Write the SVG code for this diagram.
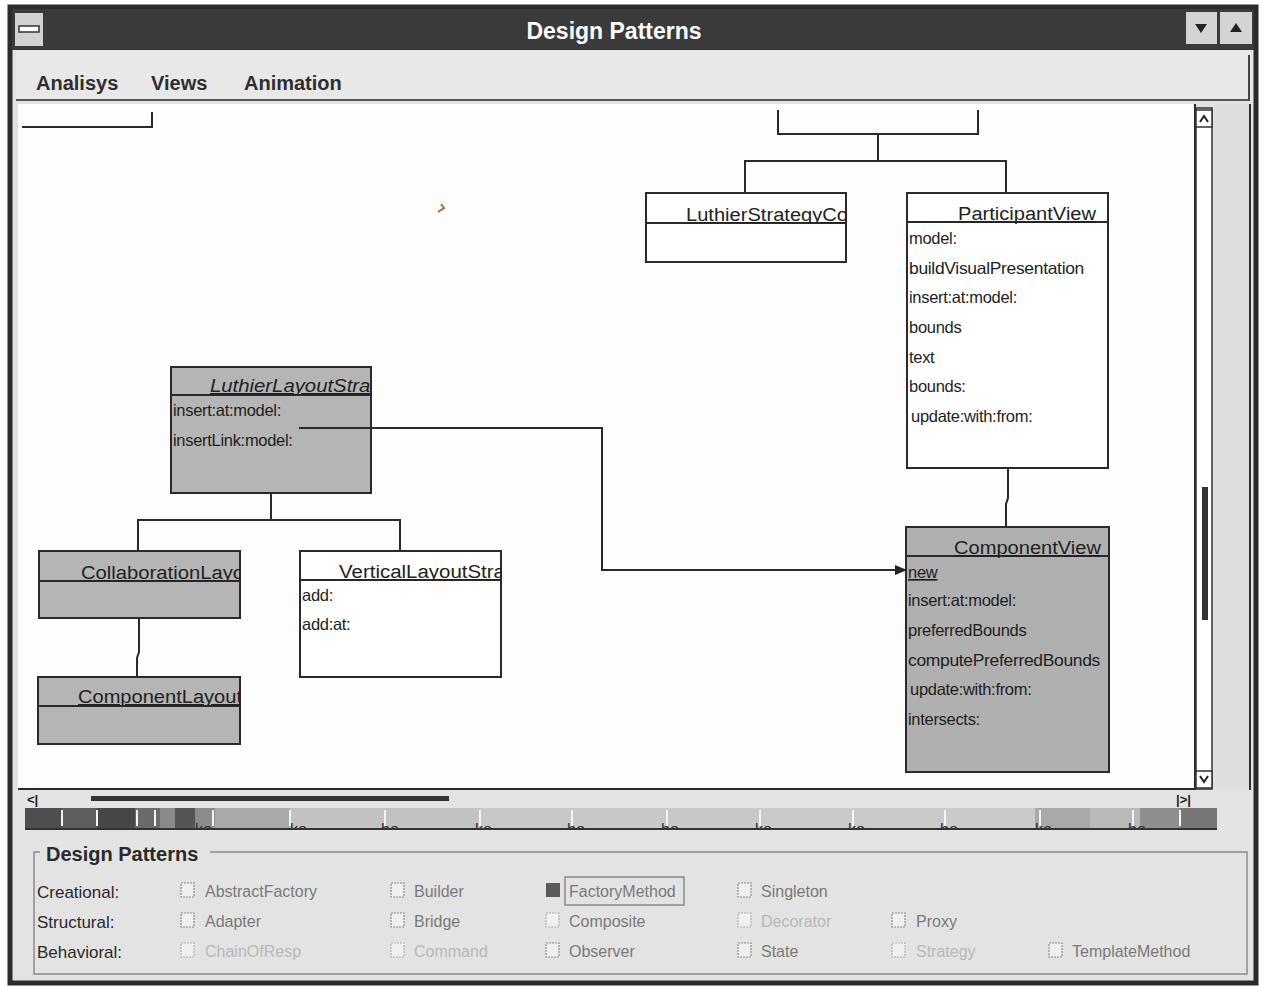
<svg xmlns="http://www.w3.org/2000/svg" width="1261" height="987" viewBox="0 0 1261 987">
<style>
  .frame{fill:#e3e3e3;stroke:#2b2b2b;stroke-width:5}
  .menu{font-family:"Liberation Sans",Arial,sans-serif;font-weight:bold;font-size:20px;fill:#2f2f2f}
  .title{font-family:"Liberation Sans",Arial,sans-serif;font-weight:bold;font-size:23px;fill:#ffffff}
  .box{stroke:#2a2a2a;stroke-width:2}
  .white{fill:#ffffff}
  .shade{fill:#b5b5b5}
  .cname{font-family:"Liberation Sans",Arial,sans-serif;font-size:18px;fill:#222;text-decoration:underline}
  .meth{font-family:"Liberation Sans",Arial,sans-serif;font-size:16.5px;fill:#1e1e1e;letter-spacing:-0.3px}
  .conn{fill:none;stroke:#2a2a2a;stroke-width:2}
  .lbl{font-family:"Liberation Sans",Arial,sans-serif;font-size:17px;fill:#2a2a2a}
  .opt{font-family:"Liberation Sans",Arial,sans-serif;font-size:16px;fill:#7a7a7a}
  .fade{fill:#b8b8b8}
  .cb{fill:#f0f0f0;stroke:#8a8a8a;stroke-width:1.2;stroke-dasharray:2 1}
  .cbf{stroke:#b0b0b0}
  .sb{fill:#ffffff;stroke:#333;stroke-width:1.5}
  .tick{stroke:#f4f4f4;stroke-width:2}
  .frag{font-family:"Liberation Sans",Arial,sans-serif;font-size:16px;fill:#333}
</style>
<defs>
  <marker id="arr" viewBox="0 0 12 10" refX="11" refY="5" markerWidth="12" markerHeight="10" markerUnits="userSpaceOnUse" orient="auto">
    <path d="M0,0 L12,5 L0,10 Z" fill="#222"/>
  </marker>
  <clipPath id="strip"><rect x="25" y="808" width="1192" height="22"/></clipPath>
  <clipPath id="cLS"><rect x="646" y="193" width="200" height="30"/></clipPath>
  <clipPath id="cLL"><rect x="172" y="367" width="199" height="28"/></clipPath>
  <clipPath id="cCL"><rect x="39" y="551" width="201" height="30"/></clipPath>
  <clipPath id="cVL"><rect x="300" y="551" width="201" height="29"/></clipPath>
  <clipPath id="cCO"><rect x="37" y="677" width="203" height="29"/></clipPath>
</defs>

<rect x="0" y="0" width="1261" height="987" fill="#ffffff"/>

<!-- window chrome -->
<g id="window">
  <rect class="frame" x="10" y="7" width="1246" height="976"/>
  <rect x="12" y="9" width="1242" height="41" fill="#3a3a3a"/>
  <rect x="15" y="13" width="28" height="33" fill="#d2d2d2"/>
  <rect x="19" y="26" width="20" height="6" fill="#fff" stroke="#333" stroke-width="1.5"/>
  <text class="title" x="614" y="39" text-anchor="middle">Design Patterns</text>
  <rect x="1186" y="12" width="31" height="32" fill="#d4d4d4"/>
  <path d="M1195,24 L1207,24 L1201,33 Z" fill="#222"/>
  <rect x="1220" y="12" width="32" height="32" fill="#d4d4d4"/>
  <path d="M1230,32 L1242,32 L1236,23 Z" fill="#222"/>
  <rect x="16" y="51" width="1234" height="49" fill="#e8e8e8"/>
  <line x1="16" y1="100" x2="1250" y2="100" stroke="#555" stroke-width="2"/>
  <line x1="1249" y1="55" x2="1249" y2="100" stroke="#444" stroke-width="2"/>
  <text class="menu" x="36" y="90">Analisys</text>
  <text class="menu" x="151" y="90">Views</text>
  <text class="menu" x="244" y="90">Animation</text>
</g>

<!-- canvas -->
<g id="canvas">
  <rect x="18" y="104" width="1177" height="685" fill="#fdfdfd"/>
  <line x1="1195" y1="104" x2="1195" y2="790" stroke="#2a2a2a" stroke-width="2"/>
  <line x1="18" y1="789" x2="1195" y2="789" stroke="#2a2a2a" stroke-width="2"/>
  <rect x="1214" y="104" width="35" height="686" fill="#dedede"/>
  <line x1="1250" y1="104" x2="1250" y2="790" stroke="#333" stroke-width="2"/>
  <rect class="sb" x="1196" y="108" width="16" height="681"/>
  <rect class="sb" x="1196" y="110" width="16" height="17"/>
  <path d="M1200,122 L1204,116 L1208,122" fill="none" stroke="#222" stroke-width="2"/>
  <rect class="sb" x="1196" y="771" width="16" height="17"/>
  <path d="M1200,776 L1204,782 L1208,776" fill="none" stroke="#222" stroke-width="2"/>
  <rect x="1202" y="487" width="6" height="133" fill="#333"/>
  <text x="27" y="804" font-family="Liberation Sans,Arial,sans-serif" font-size="13" font-weight="bold" fill="#222">&lt;|</text>
  <rect x="91" y="796" width="358" height="5" fill="#333"/>
  <text x="1176" y="804" font-family="Liberation Sans,Arial,sans-serif" font-size="13" font-weight="bold" fill="#222">|&gt;|</text>
</g>

<!-- color strip -->
<g id="strip" clip-path="url(#strip)">
  <rect x="25" y="808" width="37" height="22" fill="#4e4e4e"/>
  <rect x="62" y="808" width="35" height="22" fill="#5f5f5f"/>
  <rect x="97" y="808" width="38" height="22" fill="#474747"/>
  <rect x="135" y="808" width="25" height="22" fill="#6a6a6a"/>
  <rect x="160" y="808" width="15" height="22" fill="#8a8a8a"/>
  <rect x="175" y="808" width="20" height="22" fill="#555555"/>
  <rect x="195" y="808" width="20" height="22" fill="#8c8c8c"/>
  <rect x="215" y="808" width="75" height="22" fill="#a9a9a9"/>
  <rect x="290" y="808" width="190" height="22" fill="#c2c2c2"/>
  <rect x="480" y="808" width="280" height="22" fill="#c8c8c8"/>
  <rect x="760" y="808" width="275" height="22" fill="#cacaca"/>
  <rect x="1035" y="808" width="55" height="22" fill="#a9a9a9"/>
  <rect x="1090" y="808" width="50" height="22" fill="#b9b9b9"/>
  <rect x="1140" y="808" width="40" height="22" fill="#8e8e8e"/>
  <rect x="1180" y="808" width="37" height="22" fill="#777777"/>
  <g class="tick">
    <line x1="62" y1="810" x2="62" y2="826"/><line x1="97" y1="810" x2="97" y2="826"/>
    <line x1="137" y1="810" x2="137" y2="826"/><line x1="155" y1="810" x2="155" y2="826"/>
    <line x1="213" y1="810" x2="213" y2="826"/><line x1="290" y1="810" x2="290" y2="826"/>
    <line x1="385" y1="810" x2="385" y2="826"/><line x1="480" y1="810" x2="480" y2="826"/>
    <line x1="572" y1="810" x2="572" y2="826"/><line x1="667" y1="810" x2="667" y2="826"/>
    <line x1="760" y1="810" x2="760" y2="826"/><line x1="853" y1="810" x2="853" y2="826"/>
    <line x1="945" y1="810" x2="945" y2="826"/><line x1="1040" y1="810" x2="1040" y2="826"/>
    <line x1="1133" y1="810" x2="1133" y2="826"/><line x1="1180" y1="810" x2="1180" y2="826"/>
  </g>
  <text class="frag" x="195" y="835">ko</text>
  <text class="frag" x="290" y="835">ko</text>
  <text class="frag" x="381" y="835">bo</text>
  <text class="frag" x="475" y="835">ko</text>
  <text class="frag" x="567" y="835">bo</text>
  <text class="frag" x="661" y="835">bo</text>
  <text class="frag" x="755" y="835">ko</text>
  <text class="frag" x="848" y="835">ko</text>
  <text class="frag" x="940" y="835">bo</text>
  <text class="frag" x="1035" y="835">ko</text>
  <text class="frag" x="1128" y="835">bo</text>
  <line x1="25" y1="829" x2="1217" y2="829" stroke="#333" stroke-width="2"/>
</g>

<!-- nodes -->
<g id="LuthierStrategyCo">
  <rect class="box white" x="646" y="193" width="200" height="69"/>
  <line class="box" x1="646" y1="223" x2="846" y2="223"/>
  <text class="cname" x="686" y="221" clip-path="url(#cLS)" textLength="162" lengthAdjust="spacingAndGlyphs">LuthierStrategyCo</text>
</g>

<g id="ParticipantView">
  <rect class="box white" x="907" y="193" width="201" height="275"/>
  <line class="box" x1="907" y1="222" x2="1108" y2="222"/>
  <text class="cname" x="958" y="220" textLength="138" lengthAdjust="spacingAndGlyphs">ParticipantView</text>
  <text class="meth" x="909" y="244">model:</text>
  <text class="meth" x="909" y="274" textLength="175" lengthAdjust="spacingAndGlyphs">buildVisualPresentation</text>
  <text class="meth" x="909" y="303">insert:at:model:</text>
  <text class="meth" x="909" y="333">bounds</text>
  <text class="meth" x="909" y="363">text</text>
  <text class="meth" x="909" y="392">bounds:</text>
  <text class="meth" x="911" y="422">update:with:from:</text>
</g>

<g id="LuthierLayoutStrat">
  <rect class="box shade" x="171" y="367" width="200" height="126"/>
  <line class="box" x1="171" y1="395" x2="371" y2="395"/>
  <text class="cname" x="210" y="392" font-style="italic" clip-path="url(#cLL)" textLength="166" lengthAdjust="spacingAndGlyphs">LuthierLayoutStrat</text>
  <text class="meth" x="173" y="416">insert:at:model:</text>
  <text class="meth" x="173" y="446">insertLink:model:</text>
</g>

<g id="CollaborationLayo">
  <rect class="box shade" x="39" y="551" width="201" height="67"/>
  <line class="box" x1="39" y1="581" x2="240" y2="581"/>
  <text class="cname" x="81" y="579" clip-path="url(#cCL)" textLength="163" lengthAdjust="spacingAndGlyphs">CollaborationLayo</text>
</g>

<g id="ComponentLayout">
  <rect class="box shade" x="38" y="677" width="202" height="67"/>
  <line class="box" x1="38" y1="706" x2="240" y2="706"/>
  <text class="cname" x="78" y="703" clip-path="url(#cCO)" textLength="164" lengthAdjust="spacingAndGlyphs">ComponentLayout</text>
</g>

<g id="VerticalLayoutStra">
  <rect class="box white" x="300" y="551" width="201" height="126"/>
  <line class="box" x1="300" y1="580" x2="501" y2="580"/>
  <text class="cname" x="339" y="578" clip-path="url(#cVL)" textLength="166" lengthAdjust="spacingAndGlyphs">VerticalLayoutStra</text>
  <text class="meth" x="302" y="601">add:</text>
  <text class="meth" x="302" y="630">add:at:</text>
</g>

<g id="ComponentView">
  <rect class="box" x="906" y="527" width="203" height="245" fill="#b0b0b0"/>
  <line class="box" x1="906" y1="556" x2="1109" y2="556"/>
  <text class="cname" x="954" y="554" textLength="147" lengthAdjust="spacingAndGlyphs">ComponentView</text>
  <text class="meth" x="908" y="578" text-decoration="underline">new</text>
  <text class="meth" x="908" y="606">insert:at:model:</text>
  <text class="meth" x="908" y="636">preferredBounds</text>
  <text class="meth" x="908" y="666" textLength="192" lengthAdjust="spacingAndGlyphs">computePreferredBounds</text>
  <text class="meth" x="910" y="695">update:with:from:</text>
  <text class="meth" x="908" y="725">intersects:</text>
</g>

<!-- connectors -->
<g id="connectors">
  <path class="conn" d="M22,127 L152,127 L152,112"/>
  <path class="conn" d="M778,110 L778,134 L978,134 L978,110"/>
  <path class="conn" d="M878,134 L878,161"/>
  <path class="conn" d="M745,193 L745,161 L1006,161 L1006,193"/>
  <path class="conn" d="M1008,468 L1008,498 L1006,504 L1006,527"/>
  <path class="conn" d="M271,493 L271,520"/>
  <path class="conn" d="M138,551 L138,520 L400,520 L400,551"/>
  <path class="conn" d="M139,618 L139,652 L137,658 L137,677"/>
  <path class="conn" d="M299,428 L602,428 L602,570 L906,570" marker-end="url(#arr)"/>
  <path d="M438,212 L444,208 L441,204" fill="none" stroke="#a0703a" stroke-width="2"/>
</g>

<!-- design patterns panel -->
<g id="patterns">
  <path d="M40,852 L34,852 L34,974 L1247,974 L1247,852 L210,852" fill="none" stroke="#8c8c8c" stroke-width="1.5"/>
  <text x="46" y="861" font-family="Liberation Sans,Arial,sans-serif" font-weight="bold" font-size="20" fill="#2a2a2a">Design Patterns</text>
  <text class="lbl" x="37" y="898">Creational:</text>
  <text class="lbl" x="37" y="928">Structural:</text>
  <text class="lbl" x="37" y="958">Behavioral:</text>

  <rect class="cb" x="181" y="883" width="13" height="14"/><text class="opt" x="205" y="897">AbstractFactory</text>
  <rect class="cb" x="391" y="883" width="13" height="14"/><text class="opt" x="414" y="897">Builder</text>
  <rect x="546" y="883" width="14" height="14" fill="#5a5a5a"/>
  <rect x="565" y="877" width="119" height="28" fill="none" stroke="#8a8a8a" stroke-width="1.5"/>
  <text class="opt" x="569" y="897">FactoryMethod</text>
  <rect class="cb" x="738" y="883" width="13" height="14"/><text class="opt" x="761" y="897">Singleton</text>

  <rect class="cb" x="181" y="913" width="13" height="14"/><text class="opt" x="205" y="927">Adapter</text>
  <rect class="cb" x="391" y="913" width="13" height="14"/><text class="opt" x="414" y="927">Bridge</text>
  <rect class="cb cbf" x="546" y="913" width="13" height="14"/><text class="opt" x="569" y="927" fill="#999">Composite</text>
  <rect class="cb cbf" x="738" y="913" width="13" height="14"/><text class="opt fade" x="761" y="927">Decorator</text>
  <rect class="cb" x="892" y="913" width="13" height="14"/><text class="opt" x="916" y="927">Proxy</text>

  <rect class="cb cbf" x="181" y="943" width="13" height="14"/><text class="opt fade" x="205" y="957">ChainOfResp</text>
  <rect class="cb cbf" x="391" y="943" width="13" height="14"/><text class="opt fade" x="414" y="957">Command</text>
  <rect class="cb" x="546" y="943" width="13" height="14"/><text class="opt" x="569" y="957">Observer</text>
  <rect class="cb" x="738" y="943" width="13" height="14"/><text class="opt" x="761" y="957">State</text>
  <rect class="cb cbf" x="892" y="943" width="13" height="14"/><text class="opt fade" x="916" y="957">Strategy</text>
  <rect class="cb" x="1049" y="943" width="13" height="14"/><text class="opt" x="1072" y="957">TemplateMethod</text>
</g>
</svg>
